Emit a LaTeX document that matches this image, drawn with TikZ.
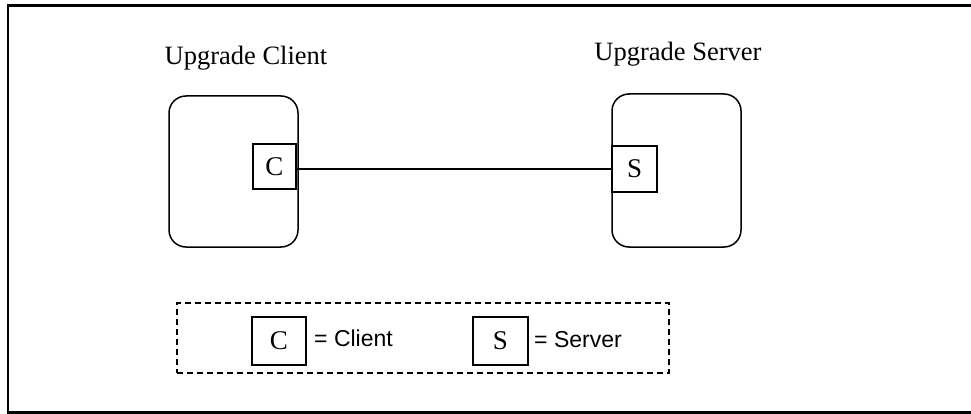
\documentclass[tikz,border=0pt]{standalone}
\usepackage{fontspec}
\setmainfont{Liberation Serif}
\newfontfamily\legendfont{Liberation Sans}
\begin{document}
\begin{tikzpicture}[x=1pt,y=-1pt,
  host/.style={draw,line width=1.5pt,rounded corners=17pt},
  port/.style={draw,line width=1.5pt,fill=white,inner sep=0pt,font=\fontsize{27}{32}\selectfont},
  title/.style={font=\fontsize{26.5}{32}\selectfont,anchor=base},
  legtext/.style={font=\legendfont\fontsize{23}{28}\selectfont,anchor=west,inner sep=0pt}]
\useasboundingbox (0,0) rectangle (971,414);
\clip (0,0) rectangle (971,414);
% outer frame, running past the right edge
\draw[line width=2.5pt] (8,5.5) rectangle (990,412.5);

% hosts
\draw[host] (169,96) rectangle (298,247);
\draw[host] (612,94) rectangle (741,247);
\node[title] (ctitle) at (246,65) {Upgrade Client};
\node[title] (stitle) at (678,61) {Upgrade Server};

% endpoints
\node[port,minimum width=43pt,minimum height=45pt] (c) at (274.5,166.5) {C};
\node[port,minimum width=45pt,minimum height=46pt] (s) at (634.5,169) {S};
\draw[line width=1.3pt] (c.east |- 0,169) -- (s.west |- 0,169);

% legend
\node[draw,dashed,line width=1.3pt,dash pattern=on 6pt off 4pt,minimum width=492pt,minimum height=70pt] (legend) at (423,338) {};
\node[port,minimum width=54pt,minimum height=48pt] (lc) at (279,341) {C};
\node[legtext] (lct) at (314,338) {= Client};
\node[port,minimum width=55pt,minimum height=48pt] (ls) at (500.5,341) {S};
\node[legtext] (lst) at (534,340) {= Server};
\end{tikzpicture}
\end{document}
